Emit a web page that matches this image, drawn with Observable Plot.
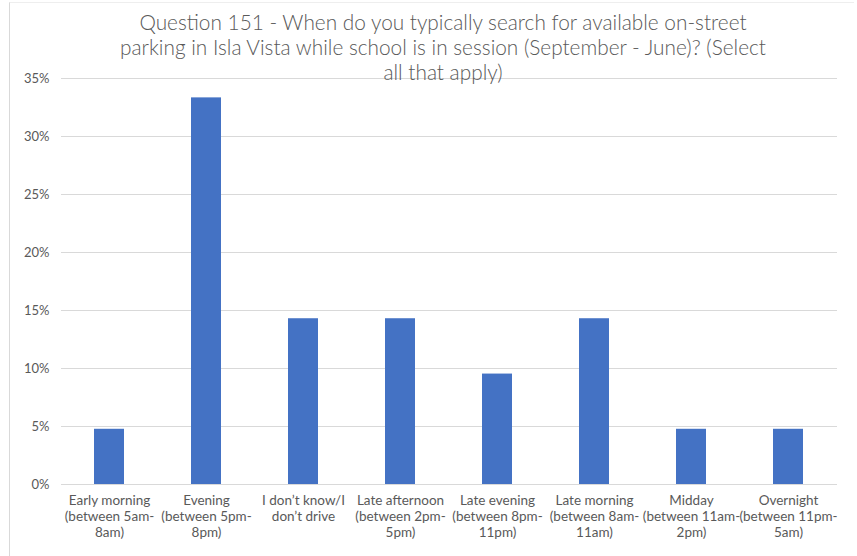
<!DOCTYPE html>
<html>
<head>
<meta charset="utf-8">
<script src="https://cdn.jsdelivr.net/npm/d3@7"></script>
<script src="https://cdn.jsdelivr.net/npm/@observablehq/plot@0.6"></script>
<style>
  html, body { margin: 0; padding: 0; background: #fff; }
  #wrap { position: relative; width: 857px; height: 556px; overflow: hidden; }
  #frame { position: absolute; left: 9px; top: 2px; width: 845px; height: 560px; border-left: 1px solid #d9d9d9; border-top: 1px solid #eeeeee; box-sizing: border-box; }
  #title { position: absolute; left: 40px; width: 806px; top: 9px; text-align: center;
    font-family: Lato, "Open Sans", sans-serif; font-size: 20.8px; font-weight: 300; line-height: 25px; color: #595959; }
  #chart { position: absolute; left: 0; top: 0; }
</style>
</head>
<body>
<div id="wrap">
  <div id="frame"></div>
  <div id="chart"></div>
  <div id="title">Question 151 - When do you typically search for available on-street<br>parking in Isla Vista while school is in session (September - June)? (Select<br>all that apply)</div>
</div>
<script>
const categories = [
  "Early morning\n(between 5am-\n8am)",
  "Evening\n(between 5pm-\n8pm)",
  "I don\u2019t know/I\ndon\u2019t drive",
  "Late afternoon\n(between 2pm-\n5pm)",
  "Late evening\n(between 8pm-\n11pm)",
  "Late morning\n(between 8am-\n11am)",
  "Midday\n(between 11am-\n2pm)",
  "Overnight\n(between 11pm-\n5am)"
];
const values = [0.0476, 0.3333, 0.1429, 0.1429, 0.0952, 0.1429, 0.0476, 0.0476];
const yTicks = [0, 0.05, 0.10, 0.15, 0.20, 0.25, 0.30, 0.35];

const data = categories.map((c, i) => ({cat: c, v: values[i]}));

const chart = Plot.plot({
  width: 857,
  height: 556,
  marginTop: 78,
  marginBottom: 72,
  marginLeft: 61,
  marginRight: 20,
  style: {fontFamily: "Lato, 'Open Sans', sans-serif", fontSize: "13.5px", color: "#595959", background: "transparent"},
  x: {domain: categories, paddingInner: 0.69, paddingOuter: 0.345, align: 0.5, label: null, tickSize: 0},
  y: {domain: [0, 0.35], ticks: yTicks, label: null, tickFormat: d => Math.round(d * 100) + "%"},
  marks: [
    Plot.gridY(yTicks, {stroke: "#d9d9d9", strokeOpacity: 1, strokeWidth: 1}),
    Plot.barY(data, {x: "cat", y: "v", fill: "#4472C4"}),
    Plot.axisY({ticks: yTicks, tickSize: 0, tickPadding: 12, tickFormat: d => Math.round(d * 100) + "%", fill: "#595959", fontSize: 13, label: null}),
    Plot.axisX({tickSize: 0, tickPadding: 9, fill: "#595959", fontSize: 13.5, lineHeight: 1.2, label: null, tickFormat: d => d})
  ]
});
document.getElementById("chart").appendChild(chart);
</script>
</body>
</html>
